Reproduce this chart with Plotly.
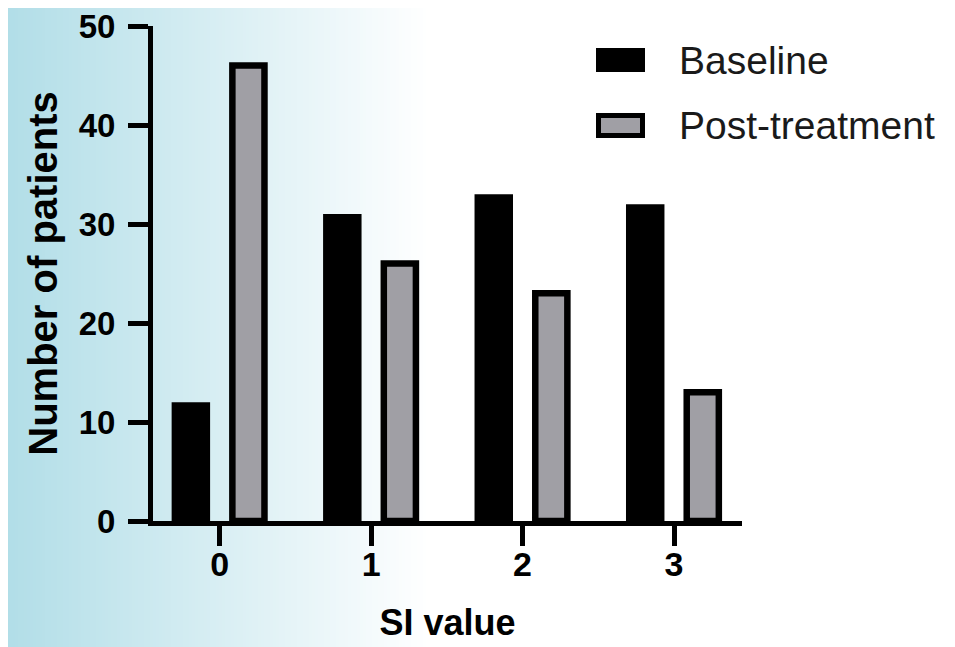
import plotly.graph_objects as go

# ---- data ----
categories = [0, 1, 2, 3]
baseline = [12, 31, 33, 32]
post_treatment = [46, 26, 23, 13]
series_names = ["Baseline", "Post-treatment"]
y_ticks = [0, 10, 20, 30, 40, 50]
x_title = "SI value"
y_title = "Number of patients"

# ---- layout geometry (page pixels; the page body adds an 8px margin) ----
OFF = 8
PAGE_W, PAGE_H = 955, 647
W, H = PAGE_W - OFF, PAGE_H - OFF
L, T = 153 - OFF, 26 - OFF
R = PAGE_W - 742
B = PAGE_H - 521
pw = W - L - R
ph = H - T - B


def px2x(px):
    # page pixel -> paper x
    return (px - OFF - L) / pw


def px2y(py):
    # page pixel -> paper y
    return (H - B - (py - OFF)) / ph


FONT = "Liberation Sans, Arial, Helvetica, sans-serif"
GRAY = "#a09fa5"

fig = go.Figure()
fig.add_trace(go.Bar(
    x=categories, y=baseline, name=series_names[0],
    width=0.254, offset=-0.19 - 0.127,
    marker=dict(color="black", line=dict(width=0)),
    showlegend=False,
))
fig.add_trace(go.Bar(
    x=categories, y=post_treatment, name=series_names[1],
    width=0.212, offset=0.19 - 0.106,
    marker=dict(color=GRAY, line=dict(color="black", width=6.5)),
    showlegend=False,
))

shapes = []
# background gradient (light blue -> white)
c0 = (176, 221, 231)
grad_end = 430
step = 3
for i in range(0, grad_end, step):
    t = (i + step / 2) / grad_end
    c = tuple(round(a + (255 - a) * t) for a in c0)
    shapes.append(dict(
        type="rect", xref="paper", yref="paper", layer="below",
        x0=px2x(i - (OFF if i == 0 else 0)), x1=px2x(i + step + 0.6),
        y0=px2y(PAGE_H), y1=px2y(OFF),
        fillcolor=f"rgb{c}", line=dict(width=0),
    ))

# legend keys
shapes.append(dict(type="rect", xref="paper", yref="paper",
                   x0=px2x(596), x1=px2x(645), y0=px2y(72), y1=px2y(48),
                   fillcolor="black", line=dict(width=0)))
shapes.append(dict(type="rect", xref="paper", yref="paper",
                   x0=px2x(598.5), x1=px2x(642.5), y0=px2y(135.5), y1=px2y(115.5),
                   fillcolor=GRAY, line=dict(color="black", width=5)))

annotations = [
    dict(text=series_names[0], xref="paper", yref="paper", x=px2x(677), y=px2y(60),
         xanchor="left", yanchor="middle", showarrow=False,
         font=dict(family=FONT, size=39, color="#1a1a1a")),
    dict(text=series_names[1], xref="paper", yref="paper", x=px2x(677), y=px2y(126),
         xanchor="left", yanchor="middle", showarrow=False,
         font=dict(family=FONT, size=39, color="#1a1a1a")),
]

fig.update_layout(
    width=W, height=H,
    margin=dict(l=L, r=R, t=T, b=B, pad=0, autoexpand=False),
    paper_bgcolor="white",
    plot_bgcolor="rgba(0,0,0,0)",
    barmode="overlay",
    shapes=shapes,
    annotations=annotations,
    font=dict(family=FONT, color="black"),
    xaxis=dict(
        automargin=False,
        range=[-0.44, 3.449],
        tickvals=categories,
        ticktext=[str(c) for c in categories],
        ticks="outside", ticklen=20, tickwidth=5, tickcolor="black",
        showline=True, linewidth=5, linecolor="black",
        showgrid=False, zeroline=False,
        ticklabelstandoff=-11,
        tickfont=dict(family=FONT, size=34, weight="bold", color="black"),
        title=dict(text=x_title, standoff=30,
                   font=dict(family=FONT, size=36, weight="bold", color="black")),
        fixedrange=True,
    ),
    yaxis=dict(
        automargin=False,
        range=[0, 50],
        tickvals=y_ticks,
        ticks="outside", ticklen=20, tickwidth=5, tickcolor="black",
        showline=True, linewidth=5, linecolor="black",
        showgrid=False, zeroline=False,
        ticklabelstandoff=6,
        ticklabeloverflow="allow",
        tickfont=dict(family=FONT, size=33, weight="bold", color="black"),
        title=dict(text=y_title, standoff=10,
                   font=dict(family=FONT, size=40, weight="bold", color="black")),
        fixedrange=True,
    ),
)

fig.write_html("out.html")
